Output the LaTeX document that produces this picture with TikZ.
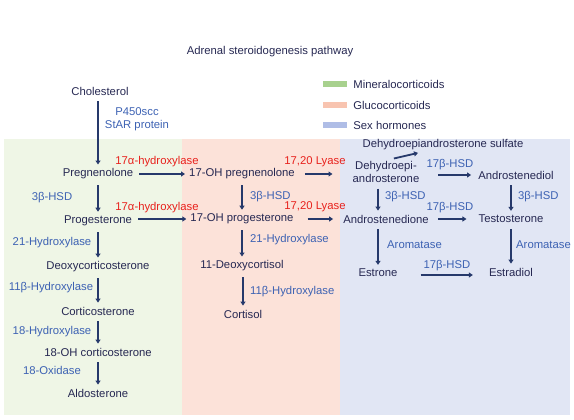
\documentclass[tikz,border=0pt]{standalone}
\usepackage{fontspec}
\setmainfont{Liberation Sans}
\usepackage{tikz}
\usetikzlibrary{arrows.meta,calc,positioning}
\definecolor{stnavy}{HTML}{262852}
\definecolor{starrow}{HTML}{26396B}
\definecolor{stblue}{HTML}{3D62B3}
\definecolor{stred}{HTML}{E8211C}
\definecolor{mineralbg}{HTML}{EFF6E6}
\definecolor{glucobg}{HTML}{FCE2D9}
\definecolor{sexbg}{HTML}{E1E6F4}
\definecolor{mineralkey}{HTML}{A8D18E}
\definecolor{glucokey}{HTML}{F8C4B0}
\definecolor{sexkey}{HTML}{AFBDE6}

\begin{document}
\begin{tikzpicture}[x=1pt,y=-1pt,
  cmpd/.style={font=\fontsize{11.3}{12.5}\selectfont,text=stnavy,inner sep=2pt,align=center},
  enz/.style={font=\fontsize{11.3}{12.5}\selectfont,text=stblue,inner sep=1pt},
  lyase/.style={enz,text=stred},
  flow/.style={-{Triangle[length=4pt,width=5pt]},line width=1.8pt,starrow,
               shorten <=4pt,shorten >=2pt},
  key/.style={minimum width=24pt,minimum height=6pt,inner sep=0pt}]
  \useasboundingbox (0,0) rectangle (574,420);
  % panels
  \fill[mineralbg] (4,139) rectangle (182,415);
  \fill[glucobg] (182,139) rectangle (340,415);
  \fill[sexbg] (340,139) rectangle (570,415);
  \node[cmpd] (title) at (270,52) {Adrenal steroidogenesis pathway};
  % legend
  \node[key,fill=mineralkey] (kmin) at (335,84) {};
  \node[key,fill=glucokey] (kglu) at (335,105) {};
  \node[key,fill=sexkey] (ksex) at (335,125) {};
  \node[cmpd,right=4pt of kmin] (tmin) {Mineralocorticoids};
  \node[cmpd,right=4pt of kglu] (tglu) {Glucocorticoids};
  \node[cmpd,right=4pt of ksex] (tsex) {Sex hormones};
  % compounds
  \node[cmpd] (chol) at (100,91) {Cholesterol};
  \node[cmpd] (preg) at (98,174) {Pregnenolone};
  \node[cmpd] (prog) at (98,221) {Progesterone};
  \node[cmpd] (doc) at (98,267) {Deoxycorticosterone};
  \node[cmpd] (cort) at (98,311) {Corticosterone};
  \node[cmpd] (ohcort) at (98,352) {18-OH corticosterone};
  \node[cmpd] (aldo) at (98,393) {Aldosterone};
  \node[cmpd] (ohpreg) at (242,174) {17-OH pregnenolone};
  \node[cmpd] (ohprog) at (242,219) {17-OH progesterone};
  \node[cmpd] (dexcl) at (242,266) {11-Deoxycortisol};
  \node[cmpd] (cortisol) at (243,314) {Cortisol};
  \node[cmpd] (dheas) at (443,145) {Dehydroepiandrosterone sulfate};
  \node[cmpd] (dhea) at (386,172) {Dehydroepi-\\androsterone};
  \node[cmpd] (adiol) at (516,175) {Androstenediol};
  \node[cmpd] (adione) at (386,219) {Androstenedione};
  \node[cmpd] (testo) at (511,219) {Testosterone};
  \node[cmpd] (estrone) at (378,273) {Estrone};
  \node[cmpd] (estradiol) at (511,272) {Estradiol};
  % enzymes
  \node[enz,align=center] (scc) at (137,119) {P450scc\\StAR protein};
  \node[enz] (hsdl) at (52,198) {3β-HSD};
  \node[enz] (hyd21l) at (52,243) {21-Hydroxylase};
  \node[enz] (hyd11l) at (51,288) {11β-Hydroxylase};
  \node[enz] (hyd18) at (52,332) {18-Hydroxylase};
  \node[enz] (oxi18) at (52,370) {18-Oxidase};
  \node[lyase] (hyd17a) at (157,162) {17α-hydroxylase};
  \node[lyase] (hyd17b) at (157,208) {17α-hydroxylase};
  \node[enz,anchor=west] (hsdm) at (249,197) {3β-HSD};
  \node[enz,anchor=west] (hyd21m) at (249,240) {21-Hydroxylase};
  \node[enz,anchor=west] (hyd11m) at (249,292) {11β-Hydroxylase};
  \node[lyase] (lya) at (315,162) {17,20 Lyase};
  \node[lyase] (lyb) at (315,207) {17,20 Lyase};
  \node[enz] (bhsda) at (450,165) {17β-HSD};
  \node[enz] (bhsdb) at (450,208) {17β-HSD};
  \node[enz] (bhsdc) at (447,266) {17β-HSD};
  \node[enz,anchor=west] (hsdsl) at (384,197) {3β-HSD};
  \node[enz,anchor=west] (hsdsr) at (517,197) {3β-HSD};
  \node[enz,anchor=west] (aroml) at (386,245) {Aromatase};
  \node[enz,anchor=west] (aromr) at (515,245) {Aromatase};
  % arrows
  \draw[flow] (chol.south -| preg) -- (preg.north);
  \draw[flow] (preg) -- (prog);
  \draw[flow] (prog) -- (doc);
  \draw[flow] (doc) -- (cort);
  \draw[flow] (cort) -- (ohcort);
  \draw[flow] (ohcort) -- (aldo);
  \draw[flow] (preg.east) -- (ohpreg.west);
  \draw[flow] (prog.east |- ohprog) -- (ohprog.west);
  \draw[flow] (ohpreg) -- (ohprog);
  \draw[flow] (ohprog) -- (dexcl);
  \draw[flow] (dexcl.south -| cortisol) -- (cortisol.north);
  \draw[flow,shorten <=8pt,shorten >=18pt] (ohpreg.east) -- (ohpreg.east -| dhea.west);
  \draw[flow,shorten <=12pt,shorten >=8pt] (ohprog.east) -- (ohprog.east -| adione.west);
  \draw[flow] ($(dhea.north)+(4,0)$) -- ($(dheas.south)+(-23,0)$);
  \draw[flow,shorten <=17pt,shorten >=5pt] (dhea.east |- adiol) -- (adiol.west);
  \draw[flow,shorten <=7pt,shorten >=10pt] (adione.east) -- (adione.east -| testo.west);
  \draw[flow,shorten <=21pt,shorten >=14pt] (estrone.east |- 0,275) -- (estradiol.west |- 0,275);
  \draw[flow] (dhea.south -| estrone) -- (adione.north -| estrone);
  \draw[flow] (adione.south -| estrone) -- (estrone.north);
  \draw[flow] (adiol.south -| testo) -- (testo.north);
  \draw[flow] (testo) -- (estradiol);
\end{tikzpicture}
\end{document}
